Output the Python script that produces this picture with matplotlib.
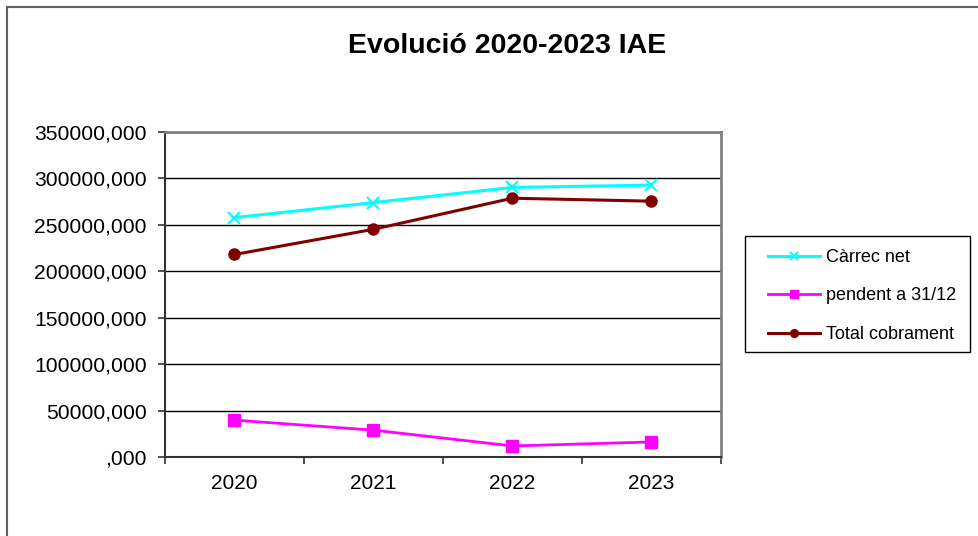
import matplotlib.pyplot as plt
import numpy as np
from matplotlib.patches import Rectangle

plt.rcParams['font.family'] = ['Liberation Sans', 'DejaVu Sans']

years = ['2020', '2021', '2022', '2023']
carrec_net = [257800, 274000, 290300, 292800]
pendent = [39700, 28900, 11900, 16200]
total_cobrament = [218100, 245200, 278700, 275500]

x = np.arange(len(years))

fig = plt.figure(figsize=(9.79, 5.36), dpi=100)
ax = fig.add_axes([165/979, 1 - 457/536, (721 - 165)/979, (457 - 132)/536])

ax.plot(x, carrec_net, color='#00FFFF', lw=2.2, marker='x', ms=8, mew=1.5, label='Càrrec net')
ax.plot(x, pendent, color='#FF00FF', lw=2, marker='s', ms=8, label='pendent a 31/12')
ax.plot(x, total_cobrament, color='#800000', lw=2.2, marker='o', ms=8, label='Total cobrament')

ax.set_xlim(-0.5, 3.5)
ax.set_ylim(0, 350000)
yt = np.arange(0, 350001, 50000)
ax.set_yticks(yt)
ax.set_yticklabels([f'{v},000' if v else ',000' for v in yt])
ax.set_xticks(x)
ax.set_xticklabels(years)
ax.set_xticks(np.arange(-0.5, 4, 1), minor=True)
ax.tick_params(axis='x', which='major', length=0, pad=12, labelsize=15)
ax.tick_params(axis='x', which='minor', length=5, width=1.2, color='#333333')
ax.tick_params(axis='y', length=5, width=1.2, color='#333333', pad=8, labelsize=15.2)
ax.grid(axis='y', color='black', lw=1)
ax.set_axisbelow(True)

for s in ['left', 'bottom']:
    ax.spines[s].set_color('#333333')
    ax.spines[s].set_linewidth(1.5)
for s in ['top', 'right']:
    ax.spines[s].set_color('#808080')
    ax.spines[s].set_linewidth(2)

fig.text(507/979, 1 - 46/536, 'Evolució 2020-2023 IAE', ha='center', va='center',
         fontsize=20.5, fontweight='bold')

# legend without its own frame, box drawn separately (Excel-like padding)
leg = ax.legend(loc='center left', bbox_to_anchor=(768/979, 1 - 296/536),
                bbox_transform=fig.transFigure, fontsize=13, frameon=False,
                labelspacing=1.2, handlelength=2.9, handletextpad=0.33,
                borderpad=0, borderaxespad=0, markerscale=0.7)
fig.patches.append(Rectangle((745/979, 1 - 352/536), 225/979, 116/536,
                             transform=fig.transFigure, fill=False,
                             edgecolor='black', lw=1))

# outer chart border (only top/left visible in the original crop)
fig.patches.append(Rectangle((7/979, -0.1), 1.2, 1 - 7/536 + 0.1, transform=fig.transFigure,
                             fill=False, edgecolor='#606060', lw=1.5))

fig.savefig('out.png', dpi=100)
